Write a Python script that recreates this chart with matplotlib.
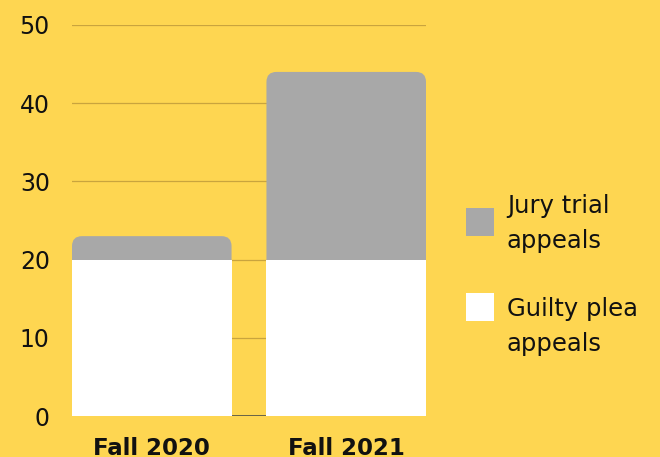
import matplotlib
matplotlib.use("Agg")
import matplotlib.pyplot as plt
from matplotlib.patches import FancyBboxPatch, Rectangle

categories = ["Fall 2020", "Fall 2021"]
guilty_plea = [20, 20]
jury_trial = [3, 24]
y_ticks = [0, 10, 20, 30, 40, 50]
legend_labels = [["Jury trial", "appeals"], ["Guilty plea", "appeals"]]

BG = "#FED651"
GRAY = "#A8A8A8"
WHITE = "#FFFFFF"
GRID = "#C9A43E"
FONT = ["DejaVu Sans"]

plt.rcParams["font.family"] = FONT

W, H = 660, 457
fig = plt.figure(figsize=(6.6, 4.57), dpi=100, facecolor=BG)
ax = fig.add_axes([72/W, 41/H, 354/W, 391/H], facecolor=BG)

width = 0.8205
x = list(range(len(categories)))
ax.set_xlim(-width/2, len(categories) - 1 + width/2)
ax.set_ylim(0, 50)

px_x = 354 / (ax.get_xlim()[1] - ax.get_xlim()[0])
px_y = 391 / 50
radius_px = 10
r = radius_px / px_x
aspect = (radius_px / px_y) / r

ax.set_axisbelow(True)
ax.yaxis.grid(True, color=GRID, linewidth=0.9)
ax.set_yticks(y_ticks)

for xi, g, j in zip(x, guilty_plea, jury_trial):
    total = g + j
    p = FancyBboxPatch((xi - width/2, 0), width, total,
                       boxstyle=f"round,pad=0,rounding_size={r}",
                       mutation_aspect=aspect, facecolor=GRAY,
                       edgecolor="none", zorder=2)
    ax.add_patch(p)

ax.bar(x, guilty_plea, width=width, color=WHITE, zorder=3)

ax.axhline(0, color="#5A5A48", linewidth=2.0, zorder=1, clip_on=True)

for s in ax.spines.values():
    s.set_visible(False)

ax.set_xticks(x)
ax.set_xticklabels(categories, fontsize=16.5, fontweight="bold", color="#111111")
ax.tick_params(axis="x", length=0, pad=15)
ax.tick_params(axis="y", length=0, pad=16, labelsize=17, labelcolor="#111111")

# legend (manual layout)
colors = [GRAY, WHITE]
sq_top = [208, 293]
line1_base = [213, 316]
for c, top, base, lines in zip(colors, sq_top, line1_base, legend_labels):
    fig.add_artist(Rectangle((466/W, 1 - (top + 28)/H), 28/W, 28/H,
                             transform=fig.transFigure, facecolor=c,
                             edgecolor="none"))
    for k, line in enumerate(lines):
        fig.text(507/W, 1 - (base + 35*k)/H, line, fontsize=17.5,
                 color="#111111", ha="left", va="baseline")

fig.savefig("out.png", dpi=100, facecolor=BG)
